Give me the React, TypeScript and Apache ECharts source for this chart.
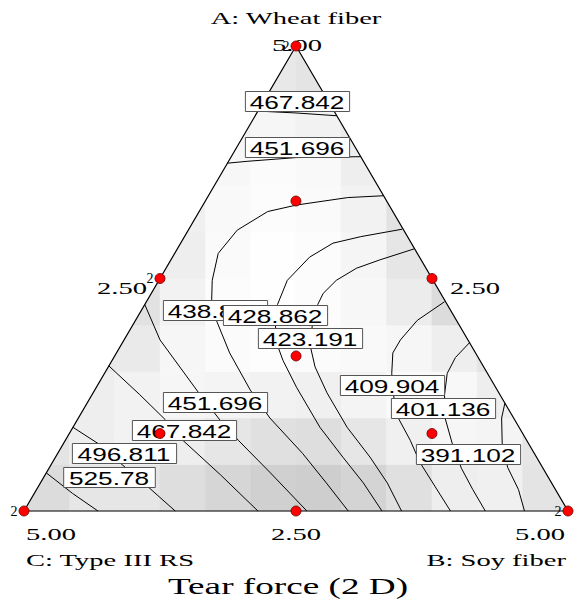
import React, { useEffect, useRef } from "react";
import * as echarts from "echarts";

// ---------- DATA (ternary: A = Wheat fiber, B = Soy fiber, C = 5 - A - B) ----------
const designA = [5, 0, 0, 2.5, 2.5, 0, 1.667, 3.333, 0.833, 0.833];
const designB = [0, 5, 0, 2.5, 0, 2.5, 1.667, 0.833, 3.333, 0.833];
const replicates = [2, 2, 2, 1, 2, 1, 1, 1, 1, 1];

// contour polylines as [A, B] pairs
const c467Top = [[4.30, 0], [4.28, 0.36], [4.25, 0.75]];
const c451Top = [[3.74, 0], [3.76, 0.17], [3.80, 0.60], [3.81, 1.19]];
const c525 = [[0.41, 0], [0.19, 0.35], [0, 0.68]];
const c496 = [[0.90, 0], [0.73, 0.31], [0.52, 0.62], [0.26, 1.01], [0, 1.39]];
const c467 = [[1.56, 0], [1.25, 0.44], [0.98, 0.81], [0.76, 1.08], [0.39, 1.61], [0, 2.15]];
const c451 = [[2.22, 0], [1.84, 0.33], [1.28, 0.96], [0.98, 1.31], [0.76, 1.59], [0.41, 2.06], [0, 2.60]];
const c438 = [[3.39, 1.61], [3.37, 1.29], [3.29, 0.86], [3.22, 0.63], [3.02, 0.45], [2.77, 0.40], [2.48, 0.49], [2.27, 0.59], [2.03, 0.76], [1.70, 1.04], [1.30, 1.43], [1.00, 1.76], [0.62, 2.25], [0.30, 2.63], [0, 2.98]];
const c428 = [[3.03, 1.96], [2.95, 1.62], [2.88, 1.40], [2.73, 1.26], [2.48, 1.18], [2.22, 1.22], [2.00, 1.31], [1.78, 1.44], [1.62, 1.57], [1.33, 1.84], [0.90, 2.27], [0.58, 2.64], [0.30, 2.97], [0, 3.29]];
const c423 = [[2.82, 2.18], [2.70, 1.92], [2.61, 1.75], [2.48, 1.63], [2.34, 1.58], [2.22, 1.59], [2.00, 1.65], [1.78, 1.74], [1.55, 1.90], [1.27, 2.15], [0.90, 2.52], [0.58, 2.89], [0.30, 3.19], [0, 3.47]];
const c409 = [[2.25, 2.74], [2.05, 2.59], [1.84, 2.54], [1.70, 2.54], [1.48, 2.64], [1.25, 2.77], [1.00, 2.94], [0.76, 3.17], [0.52, 3.38], [0.26, 3.65], [0, 3.92]];
const c401 = [[1.81, 3.19], [1.65, 3.14], [1.48, 3.15], [1.25, 3.24], [1.00, 3.37], [0.73, 3.57], [0.46, 3.79], [0.23, 4.01], [0, 4.24]];
const c391 = [[1.16, 3.84], [1.00, 3.89], [0.73, 4.03], [0.47, 4.21], [0.23, 4.43], [0, 4.60]];

const contourLines = [c467Top, c451Top, c525, c496, c467, c451, c438, c428, c423, c409, c401, c391];

// contour labels (text) and where they sit (A, B)
const labelValues = ["467.842", "451.696", "525.78", "496.811", "467.842", "451.696", "438.873", "428.862", "423.191", "409.904", "401.136", "391.102"];
const labelA = [4.41, 3.91, 0.37, 0.62, 0.87, 1.17, 2.16, 2.11, 1.86, 1.36, 1.11, 0.61];
const labelB = [0.30, 0.55, 0.60, 0.61, 1.04, 1.17, 0.68, 1.25, 1.70, 2.70, 3.30, 3.78];

// grey shading (rows bottom -> top, 12 columns across)
const shadeRows = [
  [220, 230, 230, 222, 214, 208, 206, 212, 224, 238, 240, 228],
  [228, 238, 242, 238, 230, 224, 222, 230, 240, 246, 244, 230],
  [234, 238, 242, 246, 244, 242, 240, 244, 250, 248, 238, 232],
  [232, 232, 234, 246, 251, 253, 251, 249, 246, 238, 228, 228],
  [228, 228, 226, 242, 252, 254, 252, 247, 236, 220, 214, 214],
  [232, 232, 230, 238, 250, 254, 252, 245, 230, 214, 214, 214],
  [236, 236, 236, 240, 249, 252, 250, 242, 226, 218, 218, 218],
  [238, 238, 238, 240, 247, 251, 249, 238, 228, 226, 226, 226],
  [238, 238, 238, 238, 240, 246, 242, 234, 232, 232, 232, 232],
  [230, 230, 230, 230, 230, 232, 228, 226, 226, 226, 226, 226],
];

const tickTop = "5.00";
const tickMid = "2.50";
const tickEnd = "5.00";
const axisNames = ["A: Wheat fiber", "B: Soy fiber", "C: Type III RS"];
const chartTitle = "Tear force (2 D)";

// ---------- helpers ----------
const toXY = (a: number, b: number) => [b + a / 2, a];

function clipToTriangle(poly: number[][]): number[][] {
  const tri = [[0, 0], [5, 0], [2.5, 5]];
  let out = poly;
  for (let i = 0; i < 3; i++) {
    const p = tri[i];
    const q = tri[(i + 1) % 3];
    const side = (v: number[]) => (q[0] - p[0]) * (v[1] - p[1]) - (q[1] - p[1]) * (v[0] - p[0]);
    const inp = out;
    out = [];
    for (let j = 0; j < inp.length; j++) {
      const cur = inp[j];
      const prev = inp[(j + inp.length - 1) % inp.length];
      const sc = side(cur);
      const sp = side(prev);
      const inter = () => {
        const t = sp / (sp - sc);
        return [prev[0] + t * (cur[0] - prev[0]), prev[1] + t * (cur[1] - prev[1])];
      };
      if (sc >= 0) {
        if (sp < 0) out.push(inter());
        out.push(cur);
      } else if (sp >= 0) {
        out.push(inter());
      }
    }
    if (!out.length) break;
  }
  return out;
}

const SERIF = '"Liberation Serif", "Times New Roman", serif';
const SANS = '"Liberation Sans", Arial, sans-serif';

export default function App() {
  const ref = useRef<HTMLDivElement>(null);
  useEffect(() => {
    if (!ref.current) return;
    const chart = echarts.init(ref.current, undefined, { renderer: "svg" });

    const shadeData: number[][] = [];
    shadeRows.forEach((row, r) => row.forEach((g, c) => shadeData.push([c, r, g])));

    const series: any[] = [];
    series.push({
      type: "custom",
      silent: true,
      z: 1,
      data: shadeData,
      encode: { x: 0, y: 1 },
      renderItem: (params: any, api: any) => {
        const c = api.value(0);
        const r = api.value(1);
        const g = api.value(2);
        const w = 5 / 12;
        const h = 0.5;
        const poly = clipToTriangle([
          [c * w, r * h],
          [(c + 1) * w, r * h],
          [(c + 1) * w, (r + 1) * h],
          [c * w, (r + 1) * h],
        ]);
        if (poly.length < 3) return { type: "group", children: [] };
        const col = `rgb(${g},${g},${g})`;
        return {
          type: "polygon",
          shape: { points: poly.map((p) => api.coord(p)) },
          style: { fill: col, stroke: col, lineWidth: 0.6 },
        };
      },
    });

    contourLines.forEach((pts) => {
      series.push({
        type: "line",
        data: pts.map(([a, b]) => toXY(a, b)),
        symbol: "none",
        silent: true,
        clip: false,
        z: 2,
        lineStyle: { color: "#000", width: 1 },
      });
    });

    // triangle outline
    series.push({
      type: "line",
      data: [toXY(0, 0), toXY(0, 5), toXY(5, 0), toXY(0, 0)],
      symbol: "none",
      silent: true,
      clip: false,
      z: 3,
      lineStyle: { color: "#000", width: 1.2 },
    });

    // contour labels
    series.push({
      type: "custom",
      silent: true,
      z: 4,
      data: labelA.map((a, i) => toXY(a, labelB[i])),
      encode: { x: 0, y: 1 },
      renderItem: (params: any, api: any) => {
        const p = api.coord([api.value(0), api.value(1)]);
        const txt = labelValues[params.dataIndex];
        const w = txt.length * 12.6 + 16;
        return {
          type: "group",
          x: Math.round(p[0]),
          y: Math.round(p[1]),
          children: [
            {
              type: "rect",
              shape: { x: -w / 2 + 0.5, y: -9.5, width: w, height: 20 },
              style: { fill: "#fff", stroke: "#555", lineWidth: 1 },
            },
            {
              type: "text",
              x: 0,
              y: 1,
              scaleX: 1.38,
              style: {
                text: txt,
                font: `19px ${SANS}`,
                fill: "#000",
                align: "center",
                verticalAlign: "middle",
                textAlign: "center",
                textVerticalAlign: "middle",
              },
            },
          ],
        };
      },
    });

    // design points
    series.push({
      type: "scatter",
      z: 5,
      data: designA.map((a, i) => toXY(a, designB[i])),
      symbolSize: 10,
      itemStyle: { color: "#ff0000", borderColor: "#600000", borderWidth: 0.8, opacity: 1 },
      label: {
        show: true,
        position: "left",
        distance: 1,
        formatter: (p: any) => (replicates[p.dataIndex] > 1 ? String(replicates[p.dataIndex]) : ""),
        fontFamily: SERIF,
        fontSize: 14,
        color: "#000",
      },
    });

    chart.setOption({
      animation: false,
      backgroundColor: "#fff",
      grid: { left: 24, top: 46, width: 544, height: 465, containLabel: false },
      xAxis: { type: "value", min: 0, max: 5, show: false },
      yAxis: { type: "value", min: 0, max: 5, show: false },
      series,
    });

    const px = (a: number, b: number) => chart.convertToPixel({ gridIndex: 0 }, toXY(a, b)) as number[];
    const top = px(5, 0);
    const leftMid = px(2.5, 0);
    const rightMid = px(2.5, 2.5);
    const cV = px(0, 0);
    const bV = px(0, 5);
    const bMid = px(0, 2.5);

    const T = (text: string, x: number, y: number, align: string, size: number, sx: number) => ({
      type: "text",
      x,
      y,
      scaleX: sx,
      z: 1,
      silent: true,
      style: {
        text,
        font: `${size}px ${SERIF}`,
        fill: "#000",
        align,
        verticalAlign: "middle",
        textAlign: align,
        textVerticalAlign: "middle",
      },
    });

    chart.setOption({
      graphic: [
        T(axisNames[0], top[0], top[1] - 28, "center", 17, 1.68),
        T(tickTop, top[0] + 1, top[1] - 1, "center", 17, 1.68),
        T(tickMid, leftMid[0] - 13, leftMid[1] + 10, "right", 17, 1.68),
        T(tickMid, rightMid[0] + 18, rightMid[1] + 10, "left", 17, 1.68),
        T(tickEnd, cV[0] + 2, cV[1] + 23, "left", 17, 1.68),
        T(tickMid, bMid[0], bMid[1] + 23, "center", 17, 1.68),
        T(tickEnd, bV[0] - 3, bV[1] + 23, "right", 17, 1.68),
        T(axisNames[2], cV[0] + 2, cV[1] + 49, "left", 17, 1.68),
        T(axisNames[1], bV[0] - 2, bV[1] + 49, "right", 17, 1.68),
        T(chartTitle, 288, bV[1] + 75, "center", 24, 1.55),
      ],
    });

    return () => chart.dispose();
  }, []);

  return (
    <div
      ref={ref}
      style={{ position: "absolute", left: 0, top: 0, width: 576, height: 599 }}
    />
  );
}
